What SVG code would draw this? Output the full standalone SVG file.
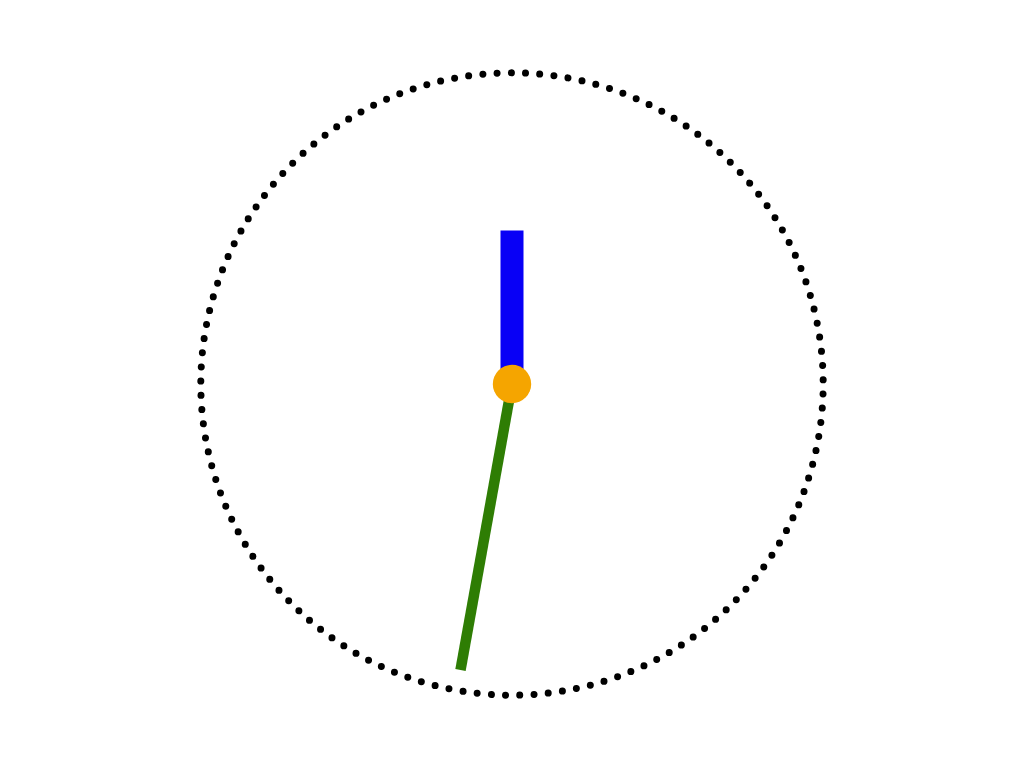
<svg xmlns="http://www.w3.org/2000/svg" width="1024" height="768" viewBox="0 0 1024 768">
<style>
.dial{fill:none;stroke:#000;stroke-width:7;stroke-linecap:round;stroke-dasharray:0 1}
</style>
<rect width="1024" height="768" fill="#fff"/>
<g id="dial">
<circle class="dial" cx="512" cy="384" r="311.2" pathLength="137" transform="rotate(1.84 512 384)"/>
</g>
<g id="hands">
<rect id="hour-hand" x="500.5" y="230.5" width="23" height="154" fill="#0800f6"/>
<line id="minute-hand" x1="512" y1="384" x2="460.5" y2="670" stroke="#2e7d04" stroke-width="10.5"/>
</g>
<g id="hub">
<circle cx="512" cy="384" r="19.2" fill="#f5a500"/>
</g>
</svg>
